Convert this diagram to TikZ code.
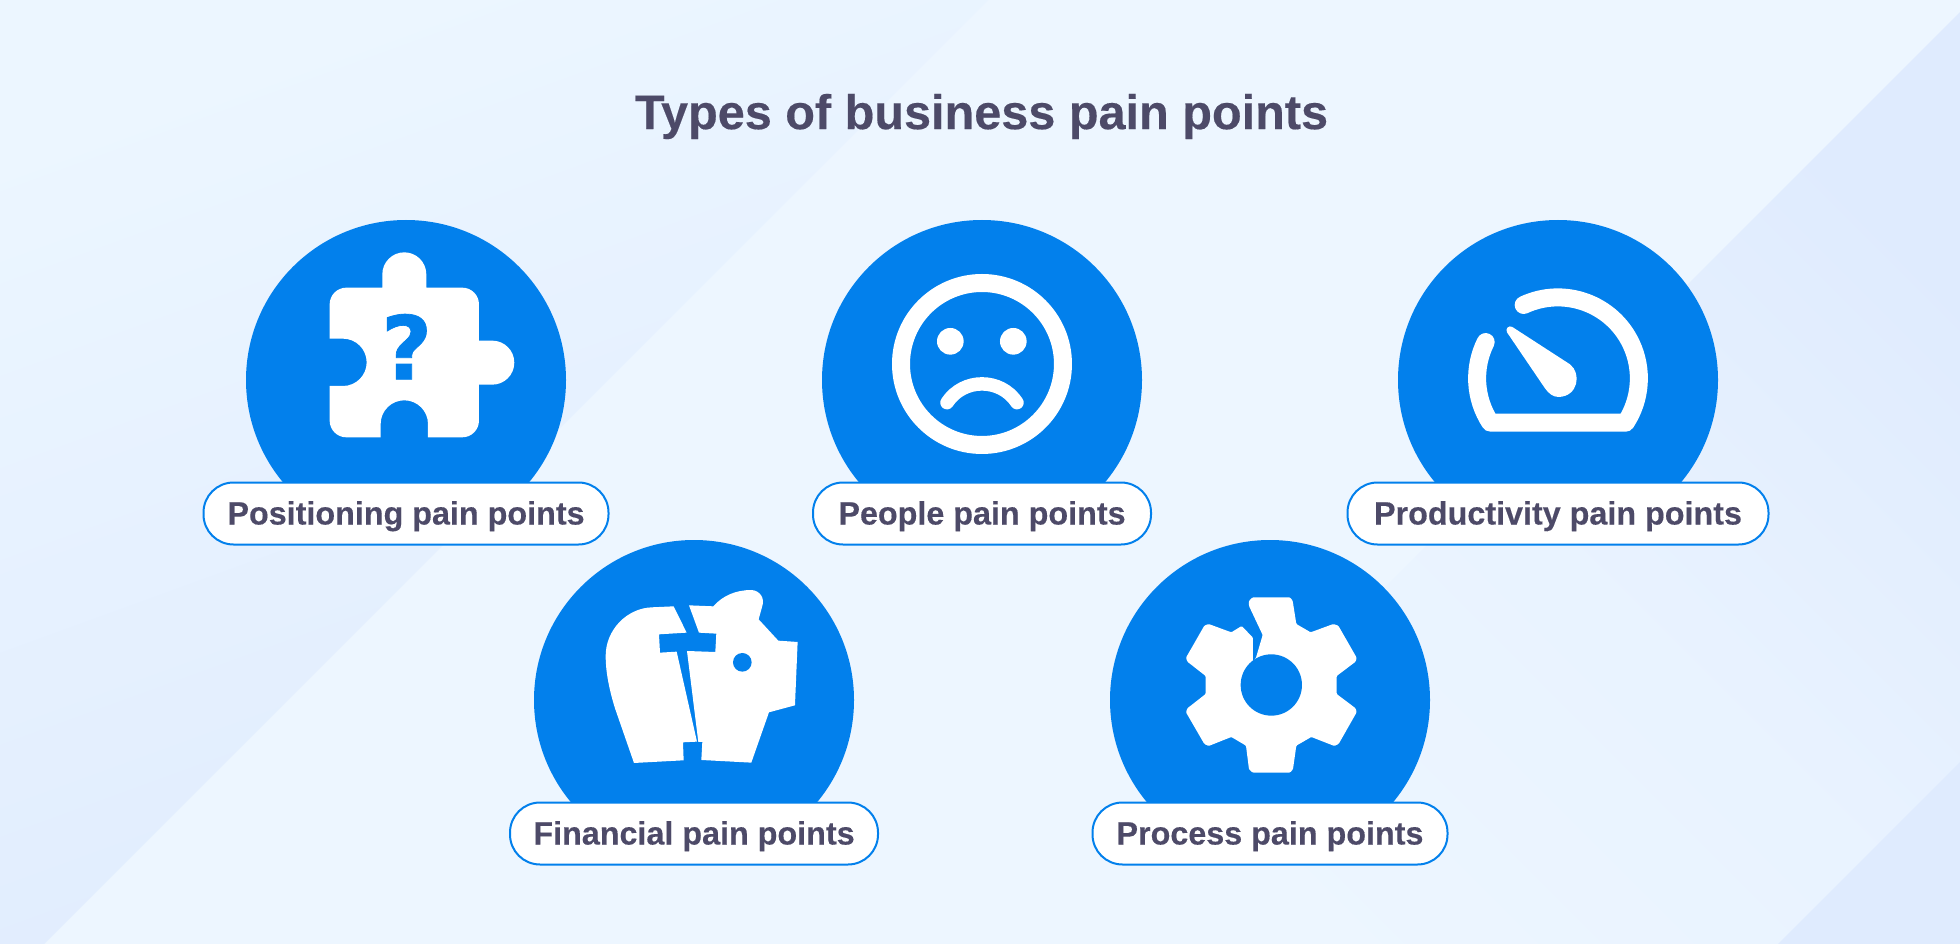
\documentclass[tikz,border=0pt]{standalone}
\usepackage{fontspec}
\setmainfont{Liberation Sans}[BoldFeatures={FakeBold=0.3}]
\newfontfamily\markfont{DejaVu Sans Bold}[FakeBold=0.8]
\usetikzlibrary{positioning}

\definecolor{paleback}{HTML}{EDF6FF}
\definecolor{deepback}{HTML}{DFEBFE}
\definecolor{lightback}{HTML}{ECF6FF}
\definecolor{discblue}{HTML}{0280EC}
\definecolor{inktext}{HTML}{4D4A68}

\tikzset{
  disc/.style={circle, fill=discblue, minimum size=320pt, inner sep=0pt, outer sep=0pt},
  pill/.style={draw=discblue, line width=2pt, fill=white, rounded corners=30pt, minimum height=62pt,
    inner sep=0pt, outer sep=0pt, text=inktext, text height=28pt, text depth=6pt,
    font=\fontsize{32.3}{36}\selectfont\bfseries},
  crop/.style={shift={#1}, scale=0.3333},
}

\begin{document}
\begin{tikzpicture}[x=1pt, y=-1pt]
  \useasboundingbox (0,0) rectangle (1960,944);

  \fill [paleback] (0,0) rectangle (1960,944);
  \shade [top color=lightback, bottom color=deepback, shading angle=20]
  (0,0) -- (988,0) -- (44,944) -- (0,944) -- cycle;
  \shade [top color=deepback, bottom color=paleback, middle color=paleback!70!deepback, shading angle=-45]
  (1960,12) -- (1960,944) -- (1028,944) -- cycle;
  \fill [deepback] (1960,762) -- (1960,944) -- (1778,944) -- cycle;

  \node (title) [text=inktext, font=\fontsize{48.6}{56}\selectfont\bfseries, inner sep=0pt] at (981.5,116.5) {Types of business pain points};

  \node (positioning) [disc] at (406,380) {};
  \node (people) [disc, right=256pt of positioning] {};
  \node (productivity) [disc, right=256pt of people] {};
  \node (financial) [disc] at (694,700) {};
  \node (process) [disc, right=256pt of financial] {};

  \node (positioninglabel) [pill, minimum width=405pt, below=-57.5pt of positioning] {Positioning pain points};
  \node (peoplelabel) [pill, minimum width=338pt, below=-57.5pt of people] {People pain points};
  \node (productivitylabel) [pill, minimum width=421pt, below=-57.5pt of productivity] {Productivity pain points};
  \node (financiallabel) [pill, minimum width=368pt, below=-57.5pt of financial] {Financial pain points};
  \node (processlabel) [pill, minimum width=355pt, below=-57.5pt of process] {Process pain points};

  \fill [white, crop={(230,210)}]
  (299,283) arc [start angle=180, end angle=270, radius=50] -- (457,233) -- (457,193)
  arc [start angle=180, end angle=360, radius=66] -- (589,233) -- (697,233)
  arc [start angle=270, end angle=360, radius=50] -- (747,392) -- (787,392)
  arc [start angle=270, end angle=450, radius=66] -- (747,524) -- (747,632)
  arc [start angle=0, end angle=90, radius=50] -- (594,682) -- (594,642)
  arc [start angle=0, end angle=-180, radius=71] -- (452,682) -- (349,682)
  arc [start angle=90, end angle=180, radius=50] -- (299,528) -- (339,528)
  arc [start angle=90, end angle=-90, radius=71] -- (299,386) -- cycle;
  \node (mark) [text=discblue, inner sep=0pt, font=\fontsize{88}{90}\selectfont\markfont] at (406.7,346.7) {?};

  \draw [white, line width=18pt, crop={(810,210)}] (516,462) circle [radius=243];
  \fill [white, crop={(810,210)}] (421,394) circle [radius=40] (610,394) circle [radius=40];
  \draw [white, line width=13.5pt, line cap=round, crop={(810,210)}]
  (411,578) .. controls (460,503) and (572,503) .. (621,578);

  \draw [white, line width=18pt, line cap=round, line join=round, crop={(1390,210)}]
  (401,285) arc [start angle=-115, end angle=33.2, radius=243] -- (301,638)
  arc [start angle=146.8, end angle=206.6, radius=243];
  \fill [white, crop={(1390,210)}]
  (367,351) -- (540,463) .. controls (575,490) and (565,560) .. (505,561)
  .. controls (490,561) and (475,550) .. (465,535) -- (351,367)
  .. controls (345,355) and (357,345) .. (367,351) -- cycle;

  \fill [white, crop={(520,530)}]
  (461,229) -- (500,308) -- (417,313) -- (420,368) -- (470,365) -- (531,635) -- (489,637) -- (491,691)
  -- (342,699) -- (285,535) .. controls (265,470) and (257,420) .. (257,378)
  .. controls (257,300) and (320,235) .. (395,232) -- cycle;
  \fill [white, crop={(520,530)}]
  (507,226) -- (580,229) .. controls (610,195) and (650,180) .. (695,180)
  .. controls (720,182) and (735,205) .. (727,228) -- (716,268) -- (775,332) -- (833,336) -- (825,526)
  -- (747,547) -- (694,698) -- (544,690) -- (547,636) -- (535,636) -- (501,363) -- (586,366) -- (589,311)
  -- (537,308) -- cycle;
  \fill [discblue, crop={(520,530)}] (667,397) circle [radius=28];

  \fill [white, rounded corners=1pt, crop={(1100,530)}]
  (458,202) -- (570,202) -- (578,212) -- (589,282) -- (632,307) -- (700,282) -- (715,287) -- (770,383)
  -- (767,395) -- (710,438) -- (710,492) -- (767,535) -- (770,547) -- (716,642) -- (703,648) -- (634,621)
  -- (589,647) -- (579,718) -- (570,728) -- (458,728) -- (447,718) -- (438,647) -- (394,621) -- (326,648)
  -- (313,642) -- (258,547) -- (262,535) -- (317,492) -- (317,438) -- (262,395) -- (258,383) -- (313,287)
  -- (326,282) -- (394,307) -- (425,288) -- (459,323) -- (459,395) -- (468,383) -- (488,315) -- (447,228)
  -- (447,212) -- cycle;
  \fill [discblue, crop={(1100,530)}] (514,465) circle [radius=92];
\end{tikzpicture}
\end{document}
